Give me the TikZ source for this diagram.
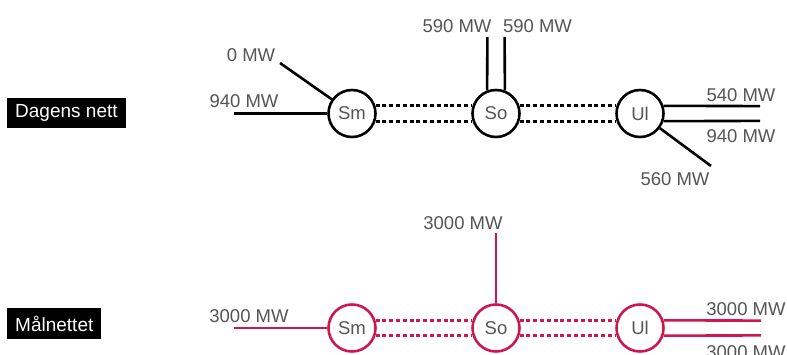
\documentclass[tikz,border=0pt]{standalone}
\usepackage{fontspec}
\setmainfont{Liberation Sans}
\definecolor{labelgray}{HTML}{555555}
\definecolor{netred}{HTML}{D0164E}

\begin{document}
\begin{tikzpicture}[x=1pt,y=-1pt,
  stn/.style={circle,draw,line width=2.6pt,minimum size=47pt,inner sep=0pt,
    text=labelgray,font=\fontsize{18.5}{20}\selectfont},
  mw/.style={anchor=base,text=labelgray,font=\fontsize{18.5}{20}\selectfont},
  tag/.style={fill=black,text=white,anchor=west,minimum height=30pt,
    inner xsep=8pt,font=\fontsize{19}{20}\selectfont},
  wire/.style={line width=2.6pt},
  link/.style={line width=2.8pt,dash pattern=on 4pt off 2.8pt}]
  \useasboundingbox (0,0) rectangle (787,355);
  \node[tag] (dagens) at (7,113) {Dagens nett};
  \node[tag] (maal) at (7,323.5) {Målnettet};
  \foreach \n/\x in {Sm/352,So/496,Ul/640} {
    \node[stn] (\n1) at (\x,113.5) {\n};
    \node[stn,draw=netred] (\n2) at (\x,328) {\n};
  }
  \foreach \a/\b in {Sm/So,So/Ul} {
    \draw[link] (\a1.18) -- (\b1.162);
    \draw[link] (\a1.-18) -- (\b1.-162);
    \draw[link,netred] (\a2.18) -- (\b2.162);
    \draw[link,netred] (\a2.-18) -- (\b2.-162);
  }
  \coordinate (smA) at (234,113.5);
  \coordinate (smB) at (280,63);
  \coordinate (soA) at (487.4,37);
  \coordinate (soB) at (504.6,37);
  \coordinate (ulA) at (760,106.1);
  \coordinate (ulB) at (760,120.9);
  \coordinate (ulC) at (711,166);
  \draw[wire] (smA) -- (Sm1.west);
  \draw[wire] (smB) -- (Sm1);
  \draw[wire] (soA) -- (So1.111);
  \draw[wire] (soB) -- (So1.69);
  \draw[wire] (Ul1.18) -- (ulA);
  \draw[wire] (Ul1.-18) -- (ulB);
  \draw[wire] (Ul1) -- (ulC);
  \coordinate (smR) at (234,328);
  \coordinate (soR) at (496,233);
  \coordinate (ulR) at (761,320.6);
  \coordinate (ulS) at (761,335.4);
  \draw[wire,netred] (smR) -- (Sm2.west);
  \draw[wire,netred] (soR) -- (So2.north);
  \draw[wire,netred] (Ul2.18) -- (ulR);
  \draw[wire,netred] (Ul2.-18) -- (ulS);
  \foreach \x/\y/\t [count=\i] in {251/62/0 MW,244/108/940 MW,457/32.7/590 MW,
      537.5/32.7/590 MW,741/102/540 MW,741/143/940 MW,675/186/560 MW,
      463/229.3/3000 MW,249/322.7/3000 MW,746/316/3000 MW,746/358/3000 MW}
    \node[mw] (mw\i) at (\x,\y) {\t};
\end{tikzpicture}
\end{document}
